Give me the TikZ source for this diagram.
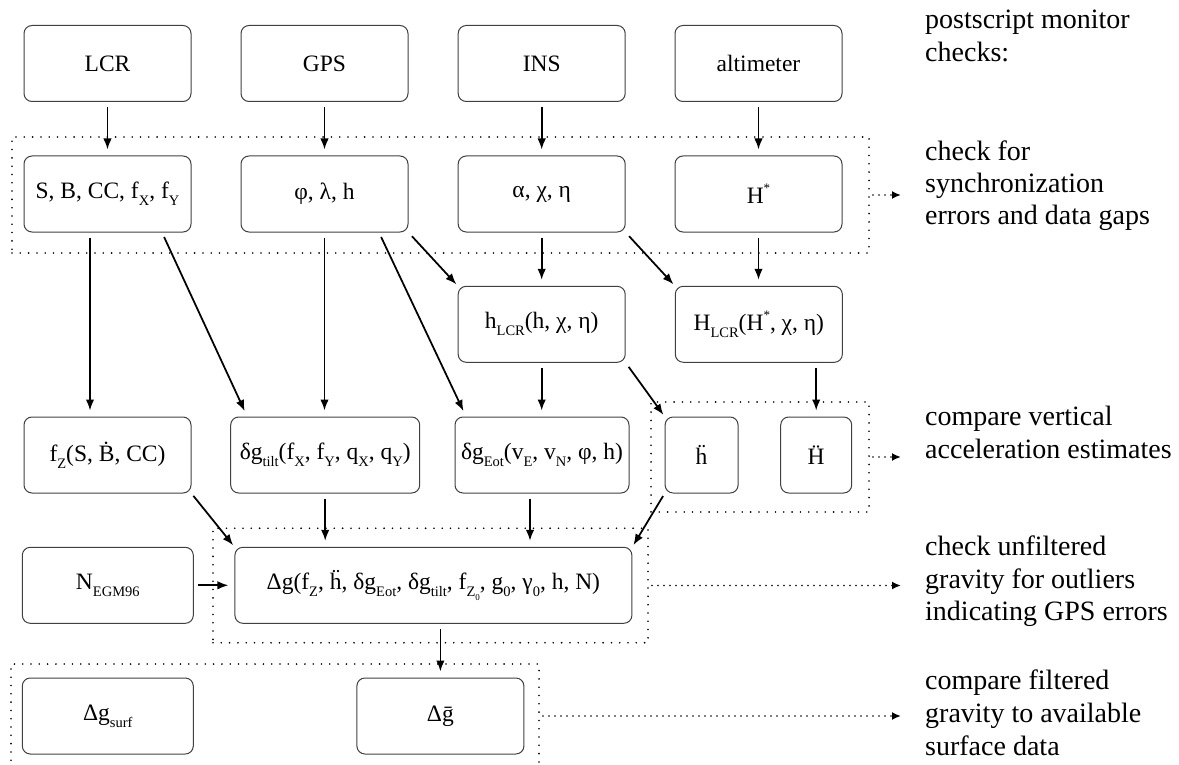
\documentclass[tikz,border=0pt]{standalone}
\usepackage{fontspec}
\setmainfont{Liberation Serif}
\usetikzlibrary{arrows.meta}
\newcommand\sbs[1]{\raisebox{-0.3em}{\fontsize{14.5}{14.5}\selectfont #1}}
\newcommand\ssbs[1]{\raisebox{-0.25em}{\fontsize{9}{9}\selectfont #1}}
\newcommand\sps[1]{\raisebox{0.45em}{\fontsize{13}{13}\selectfont #1}}
\begin{document}
\begin{tikzpicture}[x=1pt,y=-1pt,
  box/.style={draw=black!75, line width=1pt, rounded corners=8pt, minimum height=76pt,
    minimum width=167pt, inner sep=0pt, font=\fontsize{23.5}{28}\selectfont},
  flow/.style={-{Latex[length=11pt,width=8.5pt]}, line width=1.75pt, shorten <=5pt, shorten >=6pt},
  grp/.style={draw, line width=1.8pt, dash pattern=on 0pt off 8.3pt, line cap=round, inner sep=0pt},
  dflow/.style={line width=1.8pt, dash pattern=on 0pt off 6pt, line cap=round,
    -{Latex[length=9pt,width=8pt]}, shorten <=3pt, shorten >=24pt},
  note/.style={anchor=base west, inner sep=0pt, font=\fontsize{28}{33}\selectfont}]
\useasboundingbox (0,0) rectangle (1179,765);

% dotted groups
\node[grp, minimum width=857pt, minimum height=116pt] (gA) at (440.5,195) {};
\node[grp, minimum width=218pt, minimum height=110pt] (gB) at (760,457) {};
\node[grp, minimum width=435pt, minimum height=114.5pt] (gC) at (430.5,585.5) {};
\node[grp, minimum width=528pt, minimum height=126pt] (gD) at (275,727) {};

% row 1
\node[box] (lcr) at (107.5,63.5) {LCR};
\node[box] (gps) at (324.5,63.5) {GPS};
\node[box] (ins) at (541.7,63.5) {INS};
\node[box] (alt) at (758.5,63.5) {altimeter};
% row 2
\node[box] (sb) at (107.5,194) {S, B, CC, f\sbs{X}, f\sbs{Y}};
\node[box] (phi) at (324.5,194) {φ, λ, h};
\node[box] (abc) at (541.7,194) {α, χ, η};
\node[box] (hs) at (758.5,194) {H\sps{*}};
% row 3
\node[box] (hlcr) at (541.7,324.3) {h\sbs{LCR}(h, χ, η)};
\node[box] (Hlcr) at (758.8,324.3) {H\sbs{LCR}(H\sps{*}, χ, η)};
% row 4
\node[box] (fz) at (107.5,455) {f\sbs{Z}(S, Ḃ, CC)};
\node[box, minimum width=189pt] (tilt) at (325.2,455) {δg\sbs{tilt}(f\sbs{X}, f\sbs{Y}, q\sbs{X}, q\sbs{Y})};
\node[box, minimum width=174pt] (eot) at (542,455) {δg\sbs{Eot}(v\sbs{E}, v\sbs{N}, φ, h)};
\node[box, minimum width=73pt] (hdd) at (701.6,455) {ḧ};
\node[box, minimum width=71pt] (Hdd) at (816.2,455) {Ḧ};
% row 5
\node[box, minimum width=171pt] (egm) at (107.8,585.3) {N\sbs{EGM96}};
\node[box, minimum width=397pt] (dg) at (433.4,585.3) {Δg(f\sbs{Z}, ḧ, δg\sbs{Eot}, δg\sbs{tilt}, f\sbs{Z\ssbs{0}}, g\sbs{0}, γ\sbs{0}, h, N)};
% row 6
\node[box, minimum width=171pt] (surf) at (107.8,716) {Δg\sbs{surf}};
\node[box] (dbar) at (440.4,716) {Δḡ};

% connectors
\draw[flow] (lcr.south) -- (sb.north);
\draw[flow] (gps.south) -- (phi.north);
\draw[flow] (ins.south) -- (abc.north);
\draw[flow] (alt.south) -- (hs.north);
\draw[flow] ([xshift=-17.5pt]sb.south) -- ([xshift=-17.5pt]fz.north);
\draw[flow] ([xshift=54.5pt]sb.south) -- ([xshift=17pt]tilt.north west);
\draw[flow] (phi.south) -- (phi.south |- tilt.north);
\draw[flow] ([xshift=54.5pt]phi.south) -- ([xshift=11.5pt]eot.north west);
\draw[flow, shorten >=2pt] (phi.south east) -- (hlcr.north west);
\draw[flow] (abc.south) -- (hlcr.north);
\draw[flow, shorten >=2pt] (abc.south east) -- (Hlcr.north west);
\draw[flow] (hs.south) -- (hs.south |- Hlcr.north);
\draw[flow] (hlcr.south) -- (hlcr.south |- eot.north);
\draw[flow, shorten >=2pt] (hlcr.south east) -- (hdd.north west);
\draw[flow] (Hdd.north |- Hlcr.south) -- (Hdd.north);
\draw[flow, shorten >=2pt, shorten <=3pt] (fz.south east) -- (dg.north west);
\draw[flow] (tilt.south) -- (tilt.south |- dg.north);
\draw[flow] ([xshift=-12pt]eot.south) -- ([xshift=-12pt]eot.south |- dg.north);
\draw[flow, shorten >=2pt, shorten <=3pt] (hdd.south west) -- (dg.north east);
\draw[flow, shorten <=4pt] (egm.east) -- (dg.west);
\draw[flow] (dbar.north |- dg.south) -- (dbar.north);

% notes
\node[note] (t1a) at (925,29) {postscript monitor};
\node[note] (t1b) at (925,62) {checks:};
\node[note] (t2a) at (925,161) {check for};
\node[note] (t2b) at (925,193) {synchronization};
\node[note] (t2c) at (925,225) {errors and data gaps};
\node[note] (t3a) at (925,425) {compare vertical};
\node[note] (t3b) at (925,458) {acceleration estimates};
\node[note] (t4a) at (925,555) {check unfiltered};
\node[note] (t4b) at (925,588) {gravity for outliers};
\node[note] (t4c) at (925,620) {indicating GPS errors};
\node[note] (t5a) at (925,689) {compare filtered};
\node[note] (t5b) at (925,722) {gravity to available};
\node[note] (t5c) at (925,755) {surface data};

% dotted monitor arrows
\draw[dflow] (gA.east) -- (gA.east -| t2b.west);
\draw[dflow] (gB.east) -- (gB.east -| t3b.west);
\draw[dflow] (gC.east) -- (gC.east -| t4b.west);
\draw[dflow] (gD.east |- dbar.east) -- (dbar.east -| t5b.west);
\end{tikzpicture}
\end{document}
